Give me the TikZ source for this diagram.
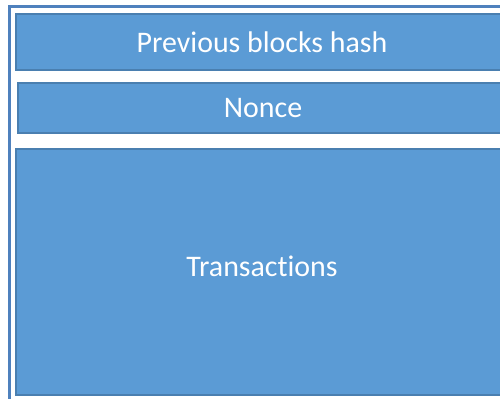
\documentclass[tikz,border=0pt]{standalone}
\usepackage{fontspec}
\setmainfont[Ligatures=NoCommon]{Carlito}
\definecolor{boxfill}{HTML}{5B9BD5}
\definecolor{boxedge}{HTML}{4A7FB0}
\definecolor{frameblue}{HTML}{4F81BD}
\begin{document}
\begin{tikzpicture}[x=1bp,y=1bp,
  field/.style={draw=boxedge, line width=1.2bp, fill=boxfill, text=white,
    font=\fontsize{30}{32}\selectfont, inner sep=0pt, outer sep=0pt}]
\useasboundingbox (0,0) rectangle (500,398);
\clip (0,0) rectangle (500,398);
% block frame, running past the right and bottom edges
\draw[frameblue, line width=2.2bp] (9.5,-20) -- (9.5,391.5) -- (560,391.5);
% block fields, also running past the right edge
\node[field, minimum width=524bp, minimum height=56bp, anchor=west] (prev) at (16,356) {\hspace*{-32bp}Previous blocks hash};
\node[field, minimum width=522bp, minimum height=50bp, anchor=west] (nonce) at (18,290) {\hspace*{-32bp}\raisebox{-3bp}{Nonce}};
\node[field, minimum width=524bp, minimum height=246bp, anchor=west] (tx) at (16,126) {\hspace*{-32bp}\raisebox{12bp}{Transactions}};
\end{tikzpicture}
\end{document}
